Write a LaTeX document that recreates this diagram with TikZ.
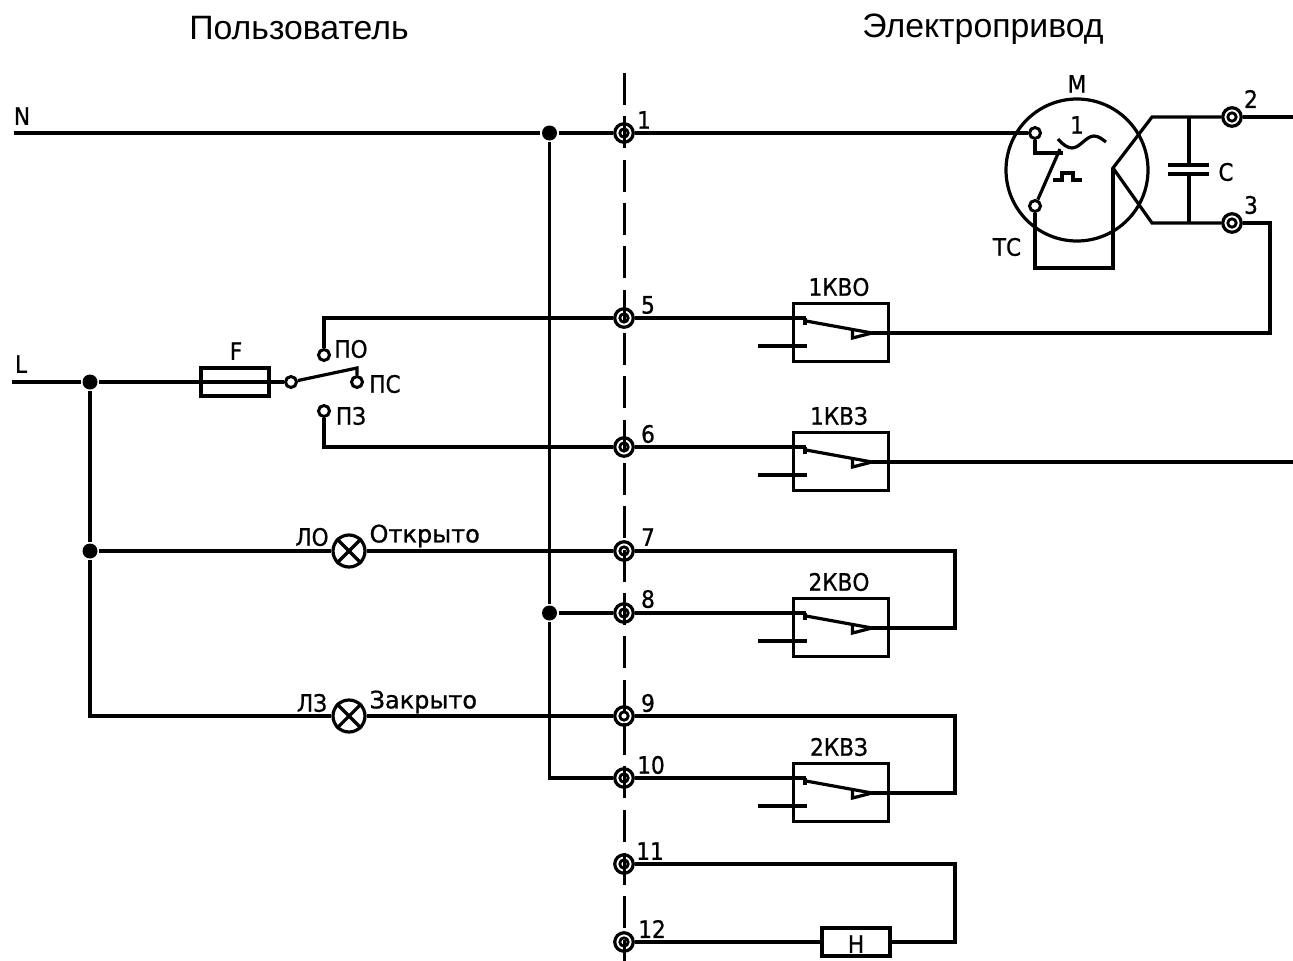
\documentclass[tikz,border=0pt]{standalone}
\usepackage{fontspec}
\setmainfont{Liberation Sans}
\newfontfamily\cad[FakeBold=0.9]{DejaVu Sans}
\begin{document}
\begin{tikzpicture}[x=1pt,y=-1pt,line width=3.2pt,
  wire/.style={draw=black,line width=3.2pt},
  thin wire/.style={draw=black,line width=3.2pt},
  term/.style={circle,draw,inner sep=0pt,minimum size=18.5pt,line width=3.2pt},
  contact/.style={circle,draw,inner sep=0pt,minimum size=11pt,fill=white,line width=3pt},
  dot/.style={circle,fill=black,inner sep=0pt,minimum size=15pt},
  lamp/.style={circle,draw,inner sep=0pt,minimum size=32pt,line width=3.2pt},
  title/.style={inner sep=0pt,font=\fontsize{33.8}{36}\selectfont},
  lbl/.style={inner sep=0pt,xscale=0.9,font=\cad\fontsize{24}{26}\selectfont},
  wlbl/.style={inner sep=0pt,font=\cad\fontsize{24}{26}\selectfont},
  kbox/.style={rectangle,draw,inner sep=0pt,minimum width=95.5pt,minimum height=57.5pt,line width=3.2pt},
  axisline/.style={draw,line width=3pt,dash pattern=on 32pt off 11.33pt}
]
\useasboundingbox (0,0) rectangle (1293,961);
% titles
\node[title] (tU) at (299,28) {Пользователь};
\node[title] (tE) at (983,29) {Электропривод};
% axis
\coordinate (axT) at (624,73);
\coordinate (axB) at (624,961);
\draw[axisline] (axT) -- (axB);
% terminals
\foreach \n/\px/\py in {1/624/133,5/624/318,6/624/447,7/624/551,8/624/613,9/624/716,10/624/778,11/624/864,12/624/942,2/1232/117,3/1232/223}{
  \node[term] (t\n) at (\px,\py) {};
  \draw[line width=2.8pt] (t\n.center) circle (4.2);
}
% terminal labels
\foreach \n/\px/\py in {1/644/120,5/648/305,6/648/434,7/648/537,8/648/599,9/648/703,10/651/765,11/650/851,12/652/929,2/1251/99,3/1251/205}{
  \node[lbl] (n\n) at (\px,\py) {\n};
}
% junctions
\node[dot] (j1) at (549.5,133) {};
\node[dot] (j2) at (549.5,613) {};
\node[dot] (j3) at (90,382) {};
\node[dot] (j4) at (90,551) {};
% free ends
\coordinate (N) at (14,133);
\coordinate (L) at (12,382);
\coordinate (E2) at (1293,117);
\coordinate (E6) at (1293,462);
\node[lbl] (lN) at (22,116) {N};
\node[lbl] (lL) at (21,364) {L};
% motor
\node[circle,draw,inner sep=0pt,minimum size=142pt,line width=3.2pt] (M) at (1077,170) {};
\node[lbl] (lM) at (1077,84) {M};
\node[lbl] (l1) at (1077,125) {1};
\node[lbl] (lTC) at (1007,247) {ТС};
\node[lbl] (lC) at (1226,172) {С};
\node[contact] (m1) at (1035,133) {};
\node[contact] (m2) at (1035,206) {};
\coordinate (mA) at (1035,153);
\coordinate (mB) at (1063,153);
\coordinate (mD) at (1060,149);
\coordinate (mE) at (1035,268);
\coordinate (mF) at (1113,268);
\coordinate (mG) at (1113,168);
\coordinate (mH) at (1152,117);
\coordinate (mI) at (1152,223);
\coordinate (cT) at (1189,117);
\coordinate (cB) at (1189,223);
\coordinate (p1) at (1189,165);
\coordinate (p2) at (1189,174);
\draw[wire] (m1) -- (mA) -- (mB);
\draw[wire] (m2) -- (mD);
\draw[wire] (m2) -- (mE) -- (mF) -- (mG);
\draw[wire] (t2) -- (mH) -- (mG) -- (mI) -- (t3);
\draw[wire] (cT) -- (p1);
\draw[wire] (p2) -- (cB);
\draw[wire] (1168,165) -- (1209,165);
\draw[wire] (1168,174) -- (1209,174);
\draw[thin wire] (1058,139) .. controls (1063,145) and (1068,148) .. (1072,148)
   .. controls (1080,148) and (1086,136) .. (1094,136)
   .. controls (1099,136) and (1103,140) .. (1106,142);
\draw[thin wire] (1053,180) -- (1062,180) -- (1062,173) -- (1073,173) -- (1073,180) -- (1082,180);
% relays
\foreach \k/\ty/\lab in {a/318/1КВО,b/447/1КВЗ,c/613/2КВО,d/778/2КВЗ}{
  \begin{scope}[shift={(0,\ty)}]
    \node[kbox] (box\k) at (841,14.5) {};
    \node[lbl] (lab\k) at (839,-31) {\lab};
    \coordinate (in\k) at (806,0);
    \coordinate (tip\k) at (872,15);
    \coordinate (st\k) at (758,28);
    \coordinate (se\k) at (807,28);
    \draw[thin wire] (805,0) -- (805,7);
    \draw[wire] (806,3) -- (tip\k);
    \draw[thin wire] (tip\k) -- (852.5,20) -- (852.5,13);
    \draw[wire] (st\k) -- (se\k);
  \end{scope}
}
% N, L main wiring
\draw[wire] (N) -- (j1) -- (t1) -- (m1);
\node[rectangle,draw,inner sep=0pt,minimum width=68pt,minimum height=28pt,line width=3.2pt] (F) at (235,382) {};
\node[lbl] (lF) at (236,351) {F};
\node[contact] (s0) at (291,382) {};
\node[contact] (sO) at (324,355) {};
\node[contact] (sC) at (357,382) {};
\node[contact] (sZ) at (324,411) {};
\coordinate (sw) at (357,368);
\node[lbl] (lPO) at (351,349) {ПО};
\node[lbl] (lPC) at (385,384) {ПС};
\node[lbl] (lPZ) at (351,416) {ПЗ};
\draw[wire] (L) -- (j3) -- (F.west) -- (F.east) -- (s0);
\draw[wire] (s0) -- (sw) -- (sC);
\coordinate (a1) at (324,318);
\coordinate (a2) at (324,447);
\draw[wire] (sO) -- (a1) -- (t5);
\draw[wire] (sZ) -- (a2) -- (t6);
\draw[wire] (t5) -- (ina);
\draw[wire] (t6) -- (inb);
\draw[wire] (t8) -- (inc);
\draw[wire] (t10) -- (ind);
\coordinate (b1) at (1270,223);
\coordinate (b2) at (1270,333);
\draw[wire] (t3) -- (b1) -- (b2) -- (tipa);
\draw[wire] (tipb) -- (E6);
\draw[wire] (t2) -- (E2);
% vertical buses
\coordinate (b3) at (549.5,778);
\coordinate (b4) at (90,716);
\draw[wire] (j1) -- (j2) -- (b3) -- (t10);
\draw[wire] (j2) -- (t8);
\draw[wire] (j3) -- (j4) -- (b4) -- (b4);
% lamps
\node[lamp] (LO) at (349,551) {};
\node[lamp] (LZ) at (349,716) {};
\foreach \q in {LO,LZ}{
  \draw[thin wire] (\q.north east) -- (\q.south west);
  \draw[thin wire] (\q.north west) -- (\q.south east);
}
\node[lbl] (lLO) at (312,537) {ЛО};
\node[lbl] (lLZ) at (312,703) {ЛЗ};
\node[wlbl,anchor=west] (lOp) at (368,536) {Открыто};
\node[wlbl,anchor=west] (lZa) at (368,702) {Закрыто};
\draw[wire] (j4) -- (LO) -- (t7);
\draw[wire] (j4) -- (b4) -- (LZ) -- (t9);
% right returns
\coordinate (r7) at (955,551);
\coordinate (r8) at (955,628);
\coordinate (r9) at (955,716);
\coordinate (r10) at (955,793);
\coordinate (r11) at (955,864);
\coordinate (r12) at (955,942);
\draw[wire] (t7) -- (r7) -- (r8) -- (tipc);
\draw[wire] (t9) -- (r9) -- (r10) -- (tipd);
\node[rectangle,draw,inner sep=0pt,minimum width=68pt,minimum height=28pt,line width=3.2pt] (H) at (856,942) {};
\node[lbl] (lH) at (856,944) {Н};
\draw[wire] (t11) -- (r11) -- (r12) -- (H);
\draw[wire] (t12) -- (H);
\end{tikzpicture}
\end{document}
